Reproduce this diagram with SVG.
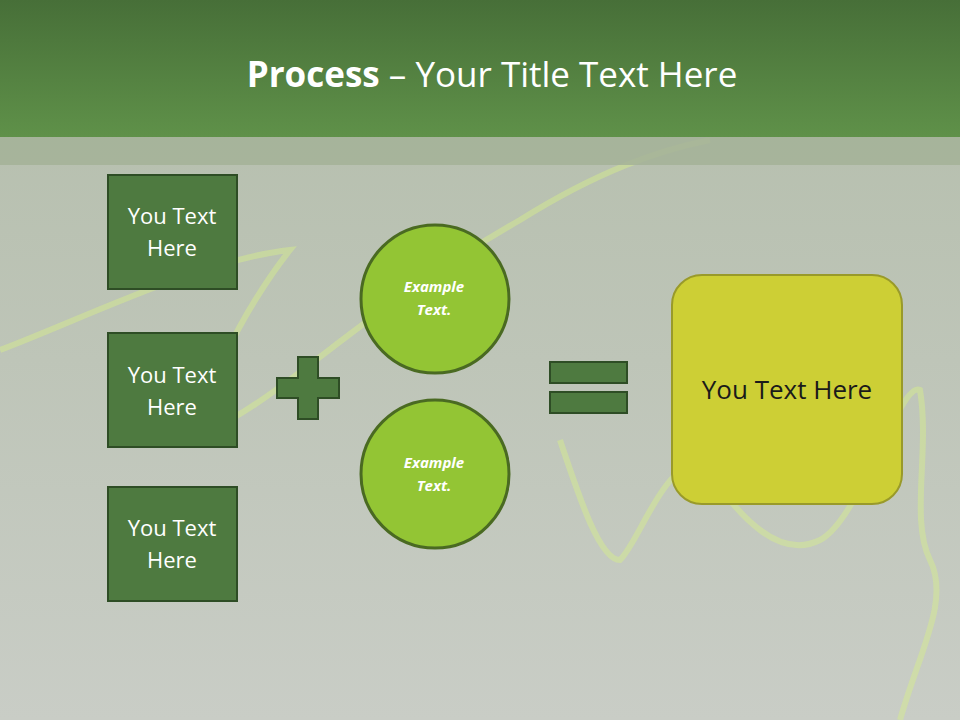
<svg xmlns="http://www.w3.org/2000/svg" width="960" height="720" viewBox="0 0 960 720">
<defs>
<linearGradient id="bg" x1="0" y1="0" x2="0" y2="1"><stop offset="0" stop-color="#b3bdaa"/><stop offset="1" stop-color="#c9cdc6"/></linearGradient>
<linearGradient id="hd" x1="0" y1="0" x2="0" y2="1"><stop offset="0" stop-color="#476f38"/><stop offset="1" stop-color="#5f9149"/></linearGradient>
<style>
.box{fill:#4e7a40;stroke:#2e4d25;stroke-width:2}
.bt{font-family:"Open Sans","Liberation Sans",sans-serif;font-size:22px;fill:#fff;text-anchor:middle}
.ct{font-family:"Open Sans","Liberation Sans",sans-serif;font-size:15px;font-weight:bold;font-style:italic;fill:#fff;text-anchor:middle}
.circ{fill:#93c534;stroke:#4a6a22;stroke-width:3}
.glow{fill:none;stroke:#d8f08a;stroke-opacity:0.45;stroke-width:6}
</style>
</defs>
<rect width="960" height="720" fill="url(#bg)"/>
<g class="glow">
<path d="M0 350 C80 320 200 260 290 250 C250 300 180 420 230 420 C300 380 380 300 520 220 C600 170 660 150 710 140"/>
<path d="M560 440 C580 500 600 560 620 560 C640 540 660 470 700 460 C740 520 780 560 820 540 C860 520 900 380 920 390 C930 450 910 520 930 560 C950 600 920 650 900 720"/>
</g>
<rect x="0" y="0" width="960" height="137" fill="url(#hd)"/>
<rect x="0" y="137" width="960" height="28" fill="#a3b198" opacity="0.85"/>
<text x="492" y="87" font-family="'Open Sans','Liberation Sans',sans-serif" font-size="35" fill="#fff" text-anchor="middle"><tspan font-weight="bold">Process</tspan> – Your Title Text Here</text>
<g id="box1"><rect class="box" x="108" y="175" width="129" height="114"/><text class="bt" x="172" y="224">You Text</text><text class="bt" x="172" y="256">Here</text></g>
<g id="box2"><rect class="box" x="108" y="333" width="129" height="114"/><text class="bt" x="172" y="383">You Text</text><text class="bt" x="172" y="415">Here</text></g>
<g id="box3"><rect class="box" x="108" y="487" width="129" height="114"/><text class="bt" x="172" y="536">You Text</text><text class="bt" x="172" y="568">Here</text></g>
<g id="plus"><path class="box" d="M298 357H318V378H339V398H318V419H298V398H277V378H298Z"/></g>
<g id="c1"><circle class="circ" cx="435" cy="299" r="74"/><text class="ct" x="434" y="292">Example</text><text class="ct" x="434" y="315">Text.</text></g>
<g id="c2"><circle class="circ" cx="435" cy="474" r="74"/><text class="ct" x="434" y="468">Example</text><text class="ct" x="434" y="491">Text.</text></g>
<g id="equals"><rect class="box" x="550" y="362" width="77" height="21"/><rect class="box" x="550" y="392" width="77" height="21"/></g>
<g id="result"><rect x="672" y="275" width="230" height="229" rx="30" fill="#cdcf35" stroke="#999a2a" stroke-width="2"/><text x="787" y="399" font-family="'Open Sans','Liberation Sans',sans-serif" font-size="26" fill="#1a1a1a" text-anchor="middle">You Text Here</text></g>
<g id="connectors"/>
</svg>
